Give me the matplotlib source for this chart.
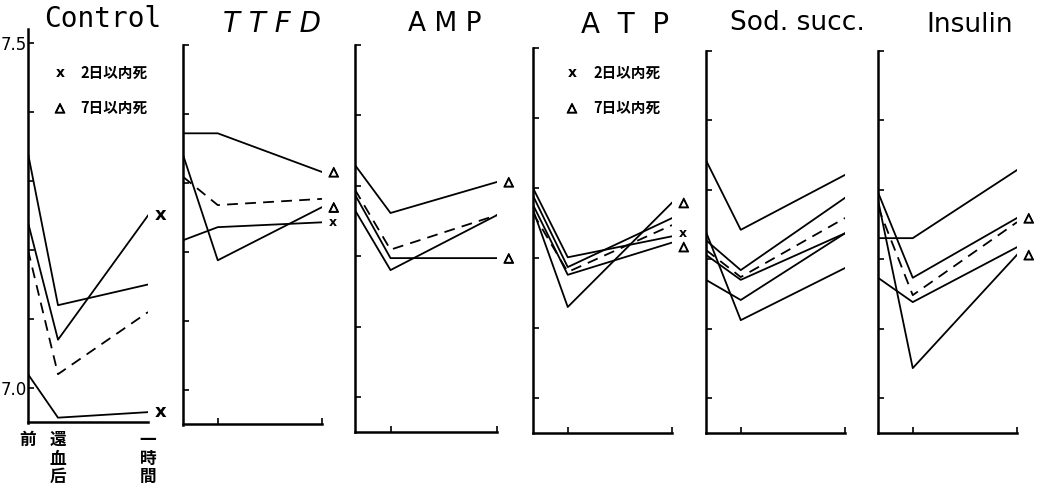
import matplotlib.pyplot as plt
import matplotlib.patheffects as pe

# time points: 前, 還血后, 一時間
x_time = [0, 1, 4]
x_labels = ['前', '還\n血\n后', '一\n時\n間']

# pH values
control_vals = [[7.34, 7.12, 7.15], [7.24, 7.07, 7.25], [7.20, 7.02, 7.11], [7.02, 6.957, 6.965]]
control_ls = ['-', '-', '--', '-']
control_marks = ['', 'x', '', 'x']

ttfd_vals = [[7.372, 7.372, 7.316], [7.341, 7.188, 7.265], [7.309, 7.268, 7.277], [7.217, 7.236, 7.243]]
ttfd_ls = ['-', '-', '--', '-']
ttfd_marks = ['△', '△', '', 'x']

amp_vals = [[7.329, 7.261, 7.305], [7.294, 7.209, 7.258], [7.287, 7.197, 7.197], [7.265, 7.180, 7.258]]
amp_ls = ['-', '--', '-', '-']
amp_marks = ['△', '', '△', '']

atp_vals = [[7.300, 7.201, 7.231], [7.289, 7.187, 7.257], [7.276, 7.176, 7.222],
            [7.269, 7.130, 7.279], [7.264, 7.180, 7.247]]
atp_ls = ['-', '-', '-', '-', '--']
atp_marks = ['x', '', '△', '△', '']

sod_vals = [[7.342, 7.242, 7.321], [7.227, 7.184, 7.288], [7.213, 7.174, 7.259],
            [7.206, 7.170, 7.237], [7.170, 7.141, 7.237], [7.239, 7.112, 7.187]]
sod_ls = ['-', '-', '--', '-', '-', '-']
sod_marks = ['', '', '', '', '', '']

ins_vals = [[7.230, 7.230, 7.328], [7.296, 7.173, 7.259], [7.275, 7.148, 7.253],
            [7.173, 7.138, 7.217], [7.285, 7.043, 7.206]]
ins_ls = ['-', '-', '--', '-', '-']
ins_marks = ['', '△', '', '', '△']

legend_labels = ['2日以内死', '7日以内死']

W, H = 1040, 487
CJK = ['Noto Sans CJK JP', 'DejaVu Sans']
thick = [pe.withStroke(linewidth=0.9, foreground='black')]

fig = plt.figure(figsize=(W / 100, H / 100), dpi=100)


def rect(l, r, top, bot):
    return [l / W, 1 - bot / H, (r - l) / W, (bot - top) / H]


# panel geometry in pixels: left, right, y of 7.5, px per pH unit, top limit
panels = [
    ('Control', control_vals, control_ls, control_marks, 28, 148, 43, 690, 7.52),
    ('TTFD', ttfd_vals, ttfd_ls, ttfd_marks, 183, 322, 45, 690, 7.5),
    ('AMP', amp_vals, amp_ls, amp_marks, 355, 497, 44.5, 705, 7.5),
    ('ATP', atp_vals, atp_ls, atp_marks, 533, 672, 48, 700, 7.5),
    ('Sod', sod_vals, sod_ls, sod_marks, 706, 845, 50.5, 695, 7.5),
    ('Insulin', ins_vals, ins_ls, ins_marks, 878, 1017, 50.5, 695, 7.5),
]

for name, vals, styles, marks, left, right, y75, ppu, ytop in panels:
    top = y75 - (ytop - 7.5) * ppu
    bot = y75 + (7.5 - 6.95) * ppu
    ax = fig.add_axes(rect(left, right, top, bot))
    for v, ls, m in zip(vals, styles, marks):
        if ls == '--':
            ax.plot(x_time, v, color='black', lw=1.3, linestyle=(0, (6, 4)))
        else:
            ax.plot(x_time, v, color='black', lw=1.3)
        if m:
            dy = 0
            if name == 'ATP' and m == 'x':
                dy = 2
            if name == 'ATP' and v[-1] < 7.225:
                dy = -3
            fs = 13 if name == 'Control' else 9
            ax.annotate(m, xy=(4, v[-1]), xytext=(5, dy), textcoords='offset points',
                        va='center', ha='left', fontsize=fs, fontweight='bold',
                        path_effects=thick if m == '△' else None)
    ax.set_xlim(0, 4)
    ax.set_ylim(6.95, ytop)
    ax.patch.set_visible(False)
    for s in ['top', 'right']:
        ax.spines[s].set_visible(False)
    for s in ['left', 'bottom']:
        ax.spines[s].set_linewidth(1.8)
    ax.tick_params(direction='in', length=4, width=1.2)
    ax.set_yticks([7.0, 7.1, 7.2, 7.3, 7.4, 7.5])
    if name == 'Control':
        ax.set_yticklabels(['7.0', '', '', '', '', '7.5'], fontsize=12)
        ax.tick_params(axis='y', pad=1)
        ax.set_xticks(x_time)
        ax.set_xticklabels(x_labels, family=CJK, fontsize=12, fontweight='bold',
                           linespacing=1.05, va='top')
        ax.tick_params(axis='x', length=0, pad=6)
    else:
        ax.set_yticklabels([])
        ax.set_xticks([1, 4])
        ax.set_xticklabels([])

# panel titles
fig.text(103 / W, 1 - 19 / H, 'Control', family='DejaVu Sans Mono', fontsize=20, ha='center', va='center')
fig.text(272 / W, 1 - 24 / H, 'T T F D', fontsize=20, style='italic', ha='center', va='center')
fig.text(445 / W, 1 - 24 / H, 'A M P', fontsize=19, ha='center', va='center')
fig.text(625 / W, 1 - 25 / H, 'A  T  P', fontsize=20, ha='center', va='center')
fig.text(797 / W, 1 - 23 / H, 'Sod. succ.', fontsize=19, ha='center', va='center')
fig.text(970 / W, 1 - 25 / H, 'Insulin', fontsize=19, ha='center', va='center')

# hand legends (Control and ATP panels)
for mx, tx in [(60, 80), (572, 593)]:
    fig.text(mx / W, 1 - 73 / H, 'x', fontsize=10, fontweight='bold', ha='center', va='center')
    fig.text(tx / W, 1 - 73 / H, legend_labels[0], family=CJK, fontsize=10.5,
             fontweight='bold', ha='left', va='center')
    fig.text(mx / W, 1 - 108 / H, '△', fontsize=9, fontweight='bold', ha='center', va='center',
             path_effects=thick)
    fig.text(tx / W, 1 - 108 / H, legend_labels[1], family=CJK, fontsize=10.5,
             fontweight='bold', ha='left', va='center')

fig.savefig('out.png', dpi=100)
